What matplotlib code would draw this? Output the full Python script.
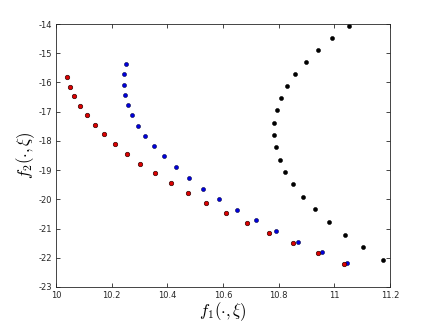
import numpy as np
import matplotlib.pyplot as plt

plt.rcParams['mathtext.fontset'] = 'cm'

# front: red, blue and black point sets
redX = [10.040, 10.050, 10.066, 10.086, 10.110, 10.140, 10.174, 10.212, 10.255, 10.302,
        10.356, 10.412, 10.473, 10.539, 10.610, 10.685, 10.765, 10.851, 10.940, 11.035]
redY = [-15.81, -16.15, -16.46, -16.79, -17.12, -17.45, -17.77, -18.11, -18.45, -18.78,
        -19.11, -19.45, -19.78, -20.12, -20.47, -20.81, -21.15, -21.51, -21.85, -22.20]

blueX = [10.250, 10.244, 10.244, 10.248, 10.259, 10.274, 10.295, 10.320, 10.352, 10.388,
         10.430, 10.477, 10.529, 10.587, 10.650, 10.718, 10.792, 10.871, 10.956, 11.045]
blueY = [-15.38, -15.72, -16.08, -16.43, -16.78, -17.12, -17.48, -17.83, -18.19, -18.53,
         -18.90, -19.27, -19.64, -19.99, -20.35, -20.72, -21.08, -21.45, -21.81, -22.19]

blackX = [11.052, 10.993, 10.941, 10.898, 10.860, 10.830, 10.807, 10.793, 10.783, 10.782,
          10.789, 10.804, 10.824, 10.852, 10.888, 10.930, 10.980, 11.037, 11.103, 11.174]
blackY = [-14.07, -14.48, -14.89, -15.30, -15.71, -16.13, -16.54, -16.95, -17.38, -17.80,
          -18.21, -18.64, -19.07, -19.49, -19.92, -20.34, -20.78, -21.21, -21.64, -22.07]

xTicks = [10, 10.2, 10.4, 10.6, 10.8, 11, 11.2]
yTicks = [-23, -22, -21, -20, -19, -18, -17, -16, -15, -14]

fig = plt.figure(figsize=(4.31, 3.23), dpi=100)
ax = fig.add_axes([0.130, 0.1115, 0.775, 0.814])

ax.plot(blackX, blackY, 'o', color='black', markersize=2.9, markeredgecolor='black', markeredgewidth=0.4)
ax.plot(blueX, blueY, 'o', color='#0000dd', markersize=2.9, markeredgecolor='#000044', markeredgewidth=0.4)
ax.plot(redX, redY, 'o', color='#dd0000', markersize=3.2, markeredgecolor='#330000', markeredgewidth=0.5)

ax.set_xlim(10, 11.2)
ax.set_ylim(-23, -14)
ax.set_xticks(xTicks)
ax.set_xticklabels(['10', '10.2', '10.4', '10.6', '10.8', '11', '11.2'])
ax.set_yticks(yTicks)
ax.set_yticklabels([str(t) for t in yTicks])

ax.tick_params(direction='in', top=True, right=True, length=3, width=0.6,
               labelsize=6, colors='#262626', pad=3)
for side in ax.spines.values():
    side.set_color('#262626')
    side.set_linewidth(0.6)

ax.set_xlabel(r'$f_1(\cdot,\xi)$', fontsize=12, labelpad=0)
ax.set_ylabel(r'$f_2(\cdot,\xi)$', fontsize=12, labelpad=1)

fig.savefig('out.png', dpi=100)
